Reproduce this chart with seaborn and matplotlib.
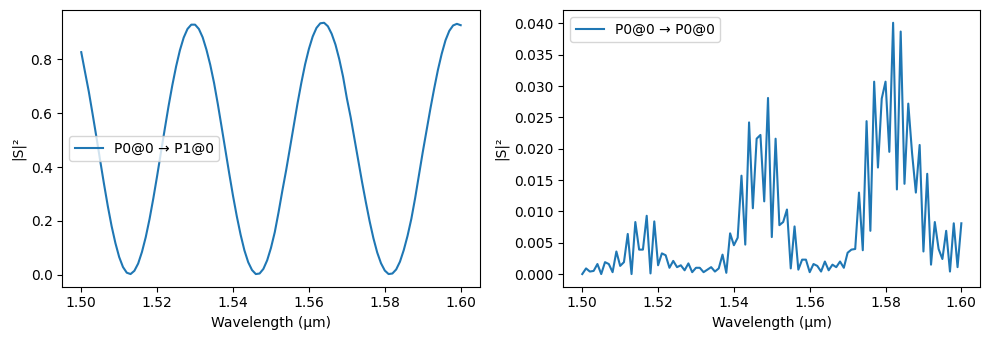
import numpy as np
import pandas as pd
import matplotlib
matplotlib.use("Agg")
import matplotlib.pyplot as plt
import seaborn as sns

# Wavelength sweep, 1.500 to 1.600 µm in 1 nm steps
wavelength = np.round(np.linspace(1.50, 1.60, 101), 3)

# Cross-port transmission P0@0 -> P1@0
s_cross = [
    0.826, 0.752, 0.679, 0.596, 0.511, 0.423, 0.337, 0.255, 0.181, 0.118,
    0.066, 0.029, 0.008, 0.003, 0.015, 0.042, 0.085, 0.140, 0.207, 0.284,
    0.367, 0.454, 0.540, 0.625, 0.703, 0.773, 0.833, 0.880, 0.912, 0.928,
    0.928, 0.912, 0.881, 0.835, 0.779, 0.712, 0.633, 0.548, 0.462, 0.376,
    0.293, 0.217, 0.149, 0.091, 0.047, 0.018, 0.003, 0.005, 0.022, 0.054,
    0.100, 0.158, 0.232, 0.312, 0.388, 0.470, 0.553, 0.636, 0.712, 0.781,
    0.838, 0.884, 0.916, 0.933, 0.935, 0.922, 0.894, 0.854, 0.800, 0.735,
    0.655, 0.585, 0.505, 0.425, 0.345, 0.270, 0.199, 0.136, 0.083, 0.043,
    0.016, 0.003, 0.005, 0.020, 0.049, 0.092, 0.145, 0.208, 0.285, 0.370,
    0.455, 0.535, 0.615, 0.690, 0.760, 0.820, 0.870, 0.905, 0.925, 0.931,
    0.926,
]

# Back-reflection P0@0 -> P0@0
s_refl = [
    0.0000, 0.0009, 0.0004, 0.0005, 0.0016, 0.0000, 0.0019, 0.0016, 0.0003, 0.0036,
    0.0013, 0.0019, 0.0064, 0.0000, 0.0083, 0.0039, 0.0039, 0.0093, 0.0001, 0.0084,
    0.0014, 0.0033, 0.0030, 0.0010, 0.0021, 0.0011, 0.0014, 0.0006, 0.0017, 0.0003,
    0.0010, 0.0010, 0.0003, 0.0007, 0.0011, 0.0004, 0.0009, 0.0031, 0.0002, 0.0065,
    0.0046, 0.0058, 0.0157, 0.0047, 0.0242, 0.0105, 0.0216, 0.0222, 0.0116, 0.0281,
    0.0059, 0.0216, 0.0078, 0.0083, 0.0103, 0.0009, 0.0076, 0.0007, 0.0023, 0.0023,
    0.0003, 0.0016, 0.0013, 0.0004, 0.0020, 0.0006, 0.0015, 0.0011, 0.0020, 0.0010,
    0.0034, 0.0039, 0.0040, 0.0130, 0.0038, 0.0244, 0.0069, 0.0307, 0.0170, 0.0280,
    0.0307, 0.0195, 0.0401, 0.0135, 0.0387, 0.0144, 0.0272, 0.0193, 0.0130, 0.0206,
    0.0036, 0.0160, 0.0015, 0.0083, 0.0040, 0.0024, 0.0069, 0.0004, 0.0081, 0.0011,
    0.0081,
]

label_cross = "P0@0 \u2192 P1@0"
label_refl = "P0@0 \u2192 P0@0"

df = pd.DataFrame({
    "wavelength": wavelength,
    "cross": s_cross,
    "refl": s_refl,
})

fig, axes = plt.subplots(1, 2, figsize=(9.9, 3.4), dpi=100)

sns.lineplot(data=df, x="wavelength", y="cross", ax=axes[0],
             color="#1f77b4", label=label_cross)
sns.lineplot(data=df, x="wavelength", y="refl", ax=axes[1],
             color="#1f77b4", label=label_refl)

for ax in axes:
    ax.set_xlabel("Wavelength (\u00b5m)")
    ax.set_ylabel("|S|\u00b2")
    ax.set_xticks([1.50, 1.52, 1.54, 1.56, 1.58, 1.60])

axes[0].legend(loc="center left")
axes[1].legend(loc="upper left")

# Panel placement in figure coordinates
bottom, height = 0.157, 0.813
axes[0].set_position([0.0629, bottom, 0.4216, height])
axes[1].set_position([0.5690, bottom, 0.4212, height])

fig.savefig("out.png", dpi=100)
